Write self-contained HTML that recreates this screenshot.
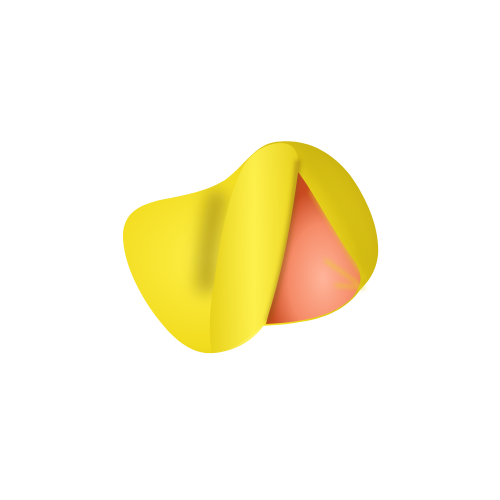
<!DOCTYPE html>
<html><head><style>html,body{margin:0;background:#fff}svg{display:block}</style></head>
<body>
<svg width="500" height="500" viewBox="0 0 500 500">
<defs>
<radialGradient id="yb" cx="0.35" cy="0.55" r="0.7"><stop offset="0" stop-color="#fff04a"/><stop offset="0.6" stop-color="#f2dc1e"/><stop offset="1" stop-color="#c8b010"/></radialGradient>
<radialGradient id="og" cx="0.6" cy="0.7" r="0.6"><stop offset="0" stop-color="#ffb49a"/><stop offset="0.6" stop-color="#f58a66"/><stop offset="1" stop-color="#c84a20"/></radialGradient>
<linearGradient id="band" x1="0" y1="0" x2="1" y2="0"><stop offset="0" stop-color="#e6d018"/><stop offset="0.5" stop-color="#fff250"/><stop offset="1" stop-color="#e8d21c"/></linearGradient>
<filter id="bl" filterUnits="userSpaceOnUse" x="0" y="0" width="500" height="500"><feGaussianBlur stdDeviation="8"/></filter>
<filter id="bl2" filterUnits="userSpaceOnUse" x="0" y="0" width="500" height="500"><feGaussianBlur stdDeviation="2"/></filter>
<clipPath id="clipS"><path d="M123,233 C125,212 140,205 160,200 C185,195 205,192 225,180 C245,165 255,145 275,142 C305,138 330,150 350,175 C368,200 380,230 378,255 C376,272 368,282 360,290 C350,305 330,318 300,322 C285,325 272,325 262,326 C245,340 230,355 205,353 C185,350 170,335 155,315 C138,292 122,260 123,233 Z"/></clipPath>
</defs>
<path d="M123,233 C125,212 140,205 160,200 C185,195 205,192 225,180 C245,165 255,145 275,142 C305,138 330,150 350,175 C368,200 380,230 378,255 C376,272 368,282 360,290 C350,305 330,318 300,322 C285,325 272,325 262,326 C245,340 230,355 205,353 C185,350 170,335 155,315 C138,292 122,260 123,233 Z" fill="url(#yb)"/>
<path d="M298,172 C312,190 330,225 350,255 C362,270 365,282 352,298 C335,314 310,322 266,324 C278,280 290,230 298,172 Z" fill="url(#og)"/>
<g stroke="#e8d020" stroke-width="2" filter="url(#bl2)" opacity="0.9">
<line x1="310" y1="190" x2="360" y2="270"/><line x1="320" y1="205" x2="365" y2="280"/><line x1="325" y1="260" x2="360" y2="285"/><line x1="335" y1="285" x2="365" y2="288"/><line x1="315" y1="182" x2="355" y2="250"/>
</g>
<g clip-path="url(#clipS)">
<path d="M218,192 C210,230 206,260 206,292" stroke="#9a8410" stroke-width="18" fill="none" filter="url(#bl)" opacity="0.7"/>
<path d="M300,150 C330,190 350,230 365,270" stroke="#b09a10" stroke-width="8" fill="none" filter="url(#bl)" opacity="0.4"/>
</g>
<path d="M243,167 C250,155 262,144 280,143 C293,143 300,150 298,172 C292,220 282,275 266,322 C255,340 235,352 212,353 C208,335 210,305 214,283 C219,245 228,195 243,167 Z" fill="url(#band)" opacity="0.9"/>
<g clip-path="url(#clipS)">
<path d="M298,160 C293,220 282,275 268,322" stroke="#8a5a10" stroke-width="5" fill="none" filter="url(#bl2)" opacity="0.5"/>
</g>
</svg>
</body></html>
